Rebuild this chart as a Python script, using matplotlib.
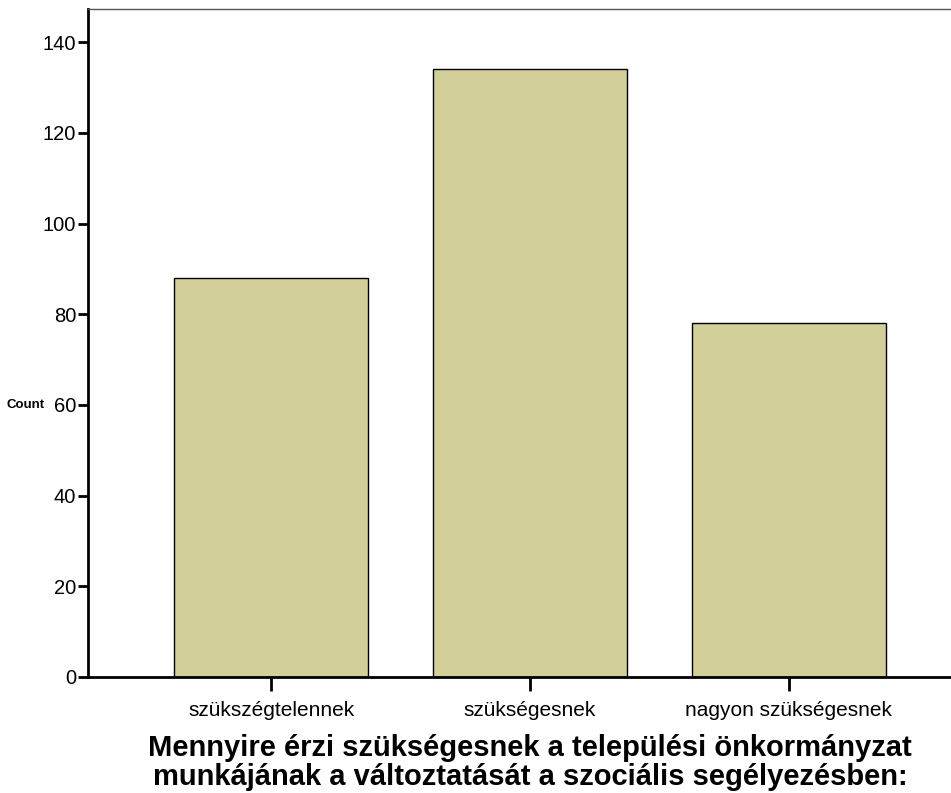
import matplotlib
matplotlib.use("Agg")
import matplotlib.pyplot as plt

categories = ["szükszégtelennek", "szükségesnek", "nagyon szükségesnek"]
counts = [88, 134, 78]
yticks = [0, 20, 40, 60, 80, 100, 120, 140]
xlabel = "Mennyire érzi szükségesnek a települési önkormányzat\nmunkájának a változtatását a szociális segélyezésben:"

plt.rcParams["font.family"] = ["Liberation Sans", "DejaVu Sans"]

fig = plt.figure(figsize=(9.51, 7.93), dpi=100)
ax = fig.add_axes([88 / 951, 1 - 677 / 793, (972 - 88) / 951, (677 - 9) / 793])

x = list(range(len(categories)))
ax.bar(x, counts, width=0.75, color="#D3CF98", edgecolor="black", linewidth=1.0, zorder=2)

ax.set_xlim(-0.707, 2.707)
ax.set_ylim(0, 147.3)
ax.set_yticks(yticks)
ax.set_yticklabels([str(v) for v in yticks], fontsize=14.5)
ax.set_xticks(x)
ax.set_xticklabels(categories, fontsize=15)

ax.spines["right"].set_visible(False)
ax.spines["top"].set_color("#555555")
ax.spines["top"].set_linewidth(1.0)
ax.spines["left"].set_linewidth(2.0)
ax.spines["bottom"].set_linewidth(2.0)

ax.tick_params(axis="y", direction="out", length=7.5, width=2, pad=1)
ax.tick_params(axis="x", direction="out", length=10, width=2, pad=7)

ax.set_xlabel(xlabel, fontsize=21, fontweight="bold", labelpad=10, linespacing=1.05)
fig.text(26 / 951, 1 - 405 / 793, "Count", fontsize=9.5, fontweight="bold",
         ha="center", va="center")

fig.savefig("out.png", dpi=100)
